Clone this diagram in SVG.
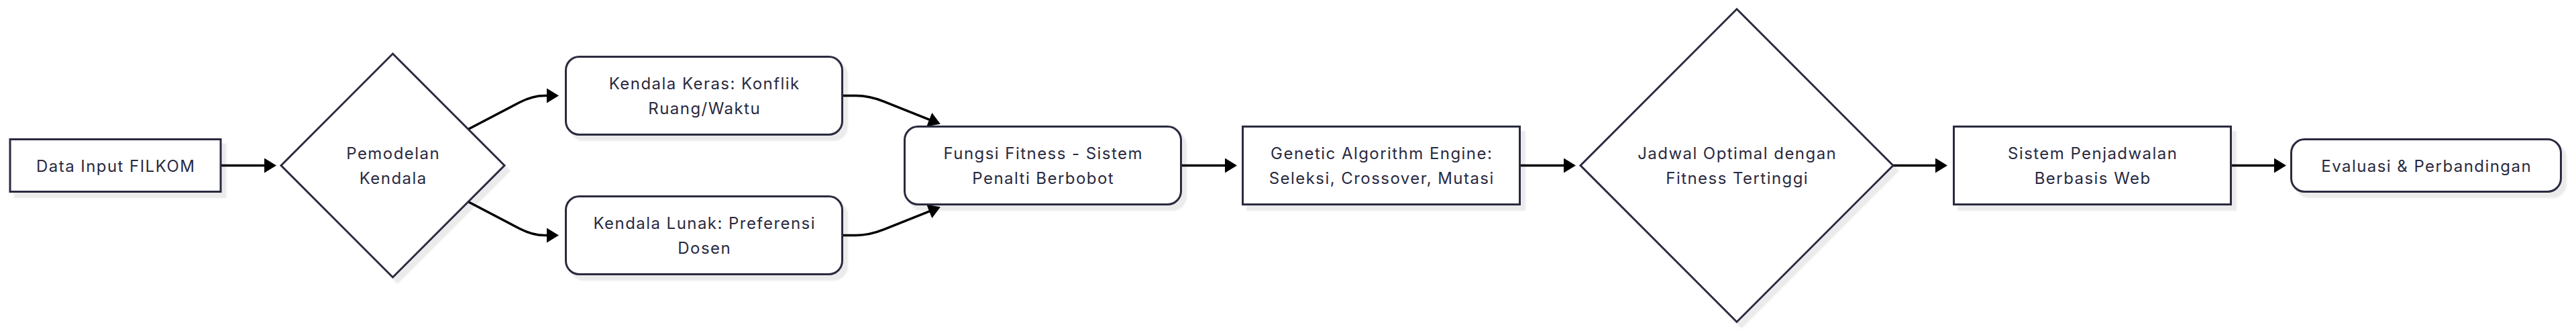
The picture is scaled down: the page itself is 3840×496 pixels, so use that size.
<svg xmlns="http://www.w3.org/2000/svg" width="3840" height="496" viewBox="0 0 3840 496">
<defs>
<style>
.shape{fill:#ffffff;stroke:#2a2a3f;stroke-width:3;filter:url(#sh);}
.lbl{font-family:Inter,"Noto Sans","Liberation Sans",sans-serif;font-size:24px;letter-spacing:1.45px;fill:#2a2a3f;text-anchor:middle;}
.edge{fill:none;stroke:#000000;stroke-width:3.5;marker-end:url(#arr);}
</style>
<filter id="sh" x="-10%" y="-10%" width="130%" height="130%">
<feDropShadow dx="7" dy="8" stdDeviation="1.2" flood-color="#000000" flood-opacity="0.08"/>
</filter>
<marker id="arr" markerUnits="userSpaceOnUse" viewBox="0 0 18 22" markerWidth="18" markerHeight="22" refX="2" refY="11" orient="auto">
<path d="M0,0 L18,11 L0,22 z" fill="#000000"/>
</marker>
</defs>
<rect width="3840" height="496" fill="#ffffff"/>
<g id="connectors">
<path class="edge" d="M330,246.5 L396,246.5"/>
<path class="edge" d="M698,192.5 L775,152.3 Q794,142.5 812,142.5 L817,142.5"/>
<path class="edge" d="M698,300.5 L775,340.7 Q794,350.5 812,350.5 L817,350.5"/>
<path class="edge" d="M1257,142.5 L1276,142.5 Q1296,142.5 1318,151.3 L1387,178.8"/>
<path class="edge" d="M1257,350.5 L1276,350.5 Q1296,350.5 1318,341.7 L1387,314.2"/>
<path class="edge" d="M1762,246.5 L1828,246.5"/>
<path class="edge" d="M2267,246.5 L2333,246.5"/>
<path class="edge" d="M2822,246.5 L2887,246.5"/>
<path class="edge" d="M3327,246.5 L3392,246.5"/>
</g>
<g id="n-data">
<rect class="shape" x="15" y="207.5" width="314" height="78"/>
<text class="lbl" x="172.7" y="255.5">Data Input FILKOM</text>
</g>
<g id="n-pemodelan">
<polygon class="shape" points="585.5,80 752,246.5 585.5,413 419,246.5"/>
<text class="lbl" x="586.2" y="236.5">Pemodelan</text>
<text class="lbl" x="586.2" y="273.8">Kendala</text>
</g>
<g id="n-keras">
<rect class="shape" x="843.5" y="84.5" width="412" height="116" rx="20" ry="20"/>
<text class="lbl" x="1050.2" y="132.5">Kendala Keras: Konflik</text>
<text class="lbl" x="1050.2" y="169.8">Ruang/Waktu</text>
</g>
<g id="n-lunak">
<rect class="shape" x="843.5" y="292.5" width="412" height="116" rx="20" ry="20"/>
<text class="lbl" x="1050.2" y="340.5">Kendala Lunak: Preferensi</text>
<text class="lbl" x="1050.2" y="377.8">Dosen</text>
</g>
<g id="n-fitness">
<rect class="shape" x="1348.5" y="188.5" width="412" height="116" rx="20" ry="20"/>
<text class="lbl" x="1555.2" y="236.5">Fungsi Fitness - Sistem</text>
<text class="lbl" x="1555.2" y="273.8">Penalti Berbobot</text>
</g>
<g id="n-ga">
<rect class="shape" x="1852.5" y="188.5" width="413" height="116"/>
<text class="lbl" x="2059.7" y="236.5">Genetic Algorithm Engine:</text>
<text class="lbl" x="2059.7" y="273.8">Seleksi, Crossover, Mutasi</text>
</g>
<g id="n-jadwal">
<polygon class="shape" points="2589,13.5 2822,246.5 2589,479.5 2356,246.5"/>
<text class="lbl" x="2589.7" y="236.5">Jadwal Optimal dengan</text>
<text class="lbl" x="2589.7" y="273.8">Fitness Tertinggi</text>
</g>
<g id="n-sistem">
<rect class="shape" x="2912.5" y="188.5" width="413" height="116"/>
<text class="lbl" x="3119.7" y="236.5">Sistem Penjadwalan</text>
<text class="lbl" x="3119.7" y="273.8">Berbasis Web</text>
</g>
<g id="n-evaluasi">
<rect class="shape" x="3415.5" y="207.5" width="402" height="78" rx="20" ry="20"/>
<text class="lbl" x="3617.2" y="255.5">Evaluasi &amp; Perbandingan</text>
</g>
</svg>
